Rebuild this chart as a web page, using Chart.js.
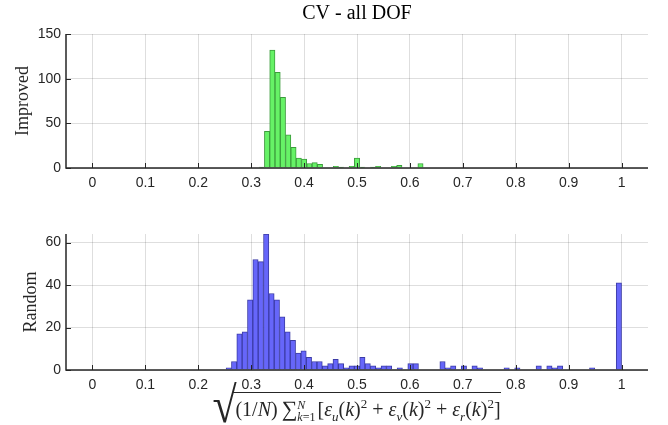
<!DOCTYPE html>
<html>
<head>
<meta charset="utf-8">
<script src="https://cdn.jsdelivr.net/npm/chart.js@4.4.0/dist/chart.umd.min.js"></script>
<style>
  body { margin: 0; background: #fff; }
  #wrap { position: relative; width: 668px; height: 425px; overflow: hidden; }
  canvas { position: absolute; left: 0; }
  #cTop { top: 0; }
  #cBot { top: 200px; }
  #xlabel {
    position: absolute; left: 66px; width: 582px; top: 392px;
    text-align: center; white-space: nowrap;
    font-family: 'Liberation Serif', serif; font-size: 20px; color: #262626;
  }
  #xlabel .f { position: relative; display: inline-block; margin-left: 20px; }
  #xlabel .rad { position: absolute; left: -21px; top: -11px; font-size: 44px; line-height: 44px; transform: scaleY(1.15); transform-origin: top; }
  #xlabel .arg { display: inline-block; border-top: 1px solid #262626; padding: 3px 0 0 2px; line-height: 1.2; }
  #xlabel .sum { font-size: 22px; }
  #xlabel .lim { display: inline-block; font-size: 12px; line-height: 12px; vertical-align: -5px; margin-right: 2px; text-align: left; }
  #xlabel sub, #xlabel sup { font-size: 13px; line-height: 0; }
</style>
</head>
<body>
<div id="wrap">
  <canvas id="cTop" width="668" height="200"></canvas>
  <canvas id="cBot" width="668" height="225"></canvas>
  <div id="xlabel"><span class="f"><span class="rad">√</span><span class="arg">(1/<i>N</i>)&#8201;<span class="sum">∑</span><span class="lim"><i>N</i><br><i>k</i>=1</span>[<i>ε</i><sub><i>u</i></sub>(<i>k</i>)<sup>2</sup> + <i>ε</i><sub><i>v</i></sub>(<i>k</i>)<sup>2</sup> + <i>ε</i><sub><i>r</i></sub>(<i>k</i>)<sup>2</sup>]</span></span></div>
</div>
<script>
// x axis (shared)
const xTicks = [0, 0.1, 0.2, 0.3, 0.4, 0.5, 0.6, 0.7, 0.8, 0.9, 1];
const xTickLabels = ['0', '0.1', '0.2', '0.3', '0.4', '0.5', '0.6', '0.7', '0.8', '0.9', '1'];

// histogram bins: first edge + width, counts
const improvedBinStart = 0.315;
const improvedBinWidth = 0.01;
const improvedCounts = [1, 41, 132, 107, 79, 37, 23, 11, 10, 5, 6, 4, 0, 0, 2, 1, 0, 2, 11, 1,
  0, 1, 2, 0, 0, 2, 3, 0, 0, 0, 5];

const randomBinStart = 0.2526;
const randomBinWidth = 0.0101;
const randomCounts = [1, 4, 17, 18, 33, 52, 51, 64, 36, 33, 25, 18, 14, 8, 9, 6, 4, 4, 2, 3,
  5, 3, 1, 2, 2, 6, 3, 2, 1, 2, 2, 0, 1, 0, 3, 3, 0, 0, 0, 0,
  4, 1, 2, 0, 2, 0, 2, 1, 0, 0, 0, 0, 1, 0, 1, 0, 0, 0, 2, 0,
  2, 1, 2, 0, 0, 0, 0, 0, 1, 0, 0, 0, 0, 41];

const improvedYTicks = [0, 50, 100, 150];
const randomYTicks = [0, 20, 40, 60];

const axisColor = '#262626';
const gridColor = 'rgba(0,0,0,0.13)';
const tickFont = { family: "'Liberation Sans', Arial, sans-serif", size: 14 };
const serifFont = { family: "'Liberation Serif', 'Times New Roman', serif", size: 18, weight: 'normal' };
const titleFont = { family: "'Liberation Serif', 'Times New Roman', serif", size: 20, weight: 'normal' };

// MATLAB style: ticks point inward, axis lines drawn over the bars
const inwardTicks = {
  id: 'inwardTicks',
  afterDatasetsDraw(chart) {
    const { ctx, chartArea: a, scales: { x, y } } = chart;
    ctx.save();
    ctx.strokeStyle = axisColor;
    ctx.lineWidth = 1;
    ctx.beginPath();
    x.ticks.forEach(t => {
      const px = Math.round(x.getPixelForValue(t.value)) + 0.5;
      ctx.moveTo(px, a.bottom);
      ctx.lineTo(px, a.bottom - 5);
    });
    y.ticks.forEach(t => {
      const py = Math.round(y.getPixelForValue(t.value)) + 0.5;
      ctx.moveTo(a.left, py);
      ctx.lineTo(a.left + 5, py);
    });
    ctx.stroke();
    ctx.lineWidth = 1.5;
    ctx.beginPath();
    ctx.moveTo(a.left, a.top);
    ctx.lineTo(a.left, a.bottom);
    ctx.lineTo(a.right, a.bottom);
    ctx.stroke();
    ctx.restore();
  }
};

function binPoints(start, width, counts) {
  return counts.map((c, i) => ({ x: start + (i + 0.5) * width, y: c }));
}

function histChart(id, opts) {
  return new Chart(document.getElementById(id), {
    type: 'bar',
    data: {
      datasets: [{
        data: binPoints(opts.start, opts.width, opts.counts),
        backgroundColor: opts.fill,
        borderColor: opts.edge,
        borderWidth: 1,
        barPercentage: 1,
        categoryPercentage: 1
      }]
    },
    options: {
      responsive: false,
      animation: false,
      devicePixelRatio: 1,
      layout: { padding: { left: 0, right: 20, top: opts.padTop, bottom: 0 } },
      plugins: {
        legend: { display: false },
        tooltip: { enabled: false },
        title: {
          display: !!opts.title,
          text: opts.title,
          fullSize: false,
          color: '#000',
          font: titleFont,
          padding: { top: 2, bottom: 8 }
        }
      },
      scales: {
        x: {
          type: 'linear',
          offset: false,
          min: -0.05,
          max: 1.05,
          afterBuildTicks: s => { s.ticks = xTicks.map(v => ({ value: v })); },
          afterFit: s => { s.height = opts.xHeight; },
          ticks: {
            callback: (v, i) => xTickLabels[i],
            color: axisColor, font: tickFont, padding: 7,
            maxRotation: 0, autoSkip: false
          },
          grid: { color: gridColor, drawTicks: false, offset: false },
          border: { display: false }
        },
        y: {
          min: 0,
          max: opts.yMax,
          afterBuildTicks: s => { s.ticks = opts.yTicks.map(v => ({ value: v })); },
          afterFit: s => { s.width = 66; },
          ticks: { color: axisColor, font: tickFont, padding: 5 },
          grid: { color: gridColor, drawTicks: false },
          border: { display: false },
          title: {
            display: true, text: opts.yTitle, color: axisColor,
            font: serifFont, padding: { top: opts.yTitlePad, bottom: 0 }
          }
        }
      }
    },
    plugins: [inwardTicks]
  });
}

histChart('cTop', {
  start: improvedBinStart, width: improvedBinWidth, counts: improvedCounts,
  fill: '#66f266', edge: '#3c9c3c',
  yMax: 150, yTicks: improvedYTicks, yTitle: 'Improved', yTitlePad: 12,
  title: 'CV - all DOF', padTop: 0, xHeight: 32
});

histChart('cBot', {
  start: randomBinStart, width: randomBinWidth, counts: randomCounts,
  fill: '#6666fa', edge: '#3c3ca6',
  yMax: 64, yTicks: randomYTicks, yTitle: 'Random', yTitlePad: 20,
  title: '', padTop: 34, xHeight: 55
});
</script>
</body>
</html>
